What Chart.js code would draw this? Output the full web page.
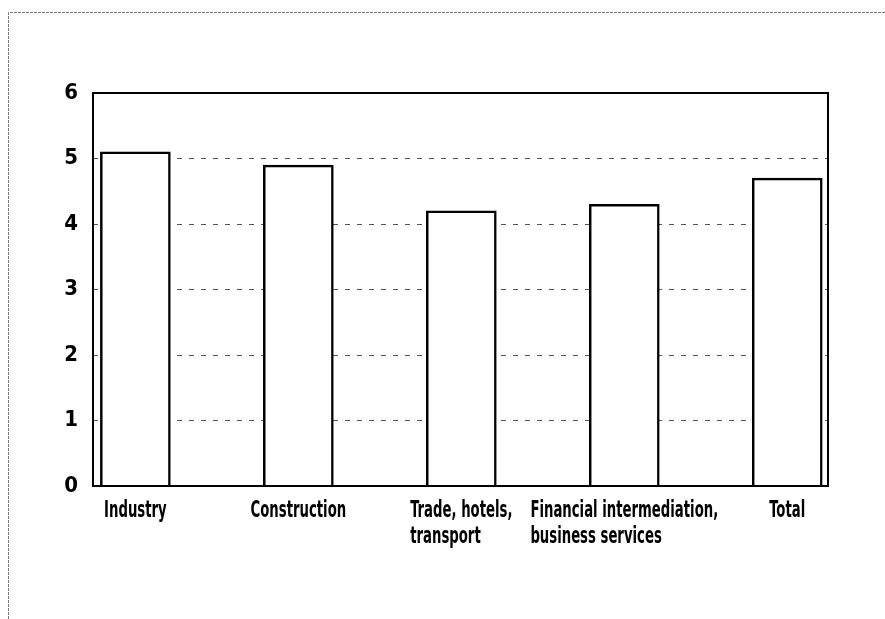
<!DOCTYPE html>
<html>
<head>
<meta charset="utf-8">
<script src="https://cdn.jsdelivr.net/npm/chart.js@4/dist/chart.umd.min.js"></script>
<style>
  html, body { margin: 0; padding: 0; background: #fff; }
  #wrap { width: 885px; height: 619px; }
</style>
</head>
<body>
<div id="wrap"><canvas id="chart" width="885" height="619"></canvas></div>
<script>
// ── Data ──────────────────────────────────────────────────────────────
const categories = [
    ['Industry'],
    ['Construction'],
    ['Trade, hotels,', 'transport'],
    ['Financial intermediation,', 'business services'],
    ['Total']
];
const values = [5.1, 4.9, 4.2, 4.3, 4.7];
const yTicks = [0, 1, 2, 3, 4, 5, 6];

const FONT = '"DejaVu Sans Condensed", "DejaVu Sans", sans-serif';
const SQUEEZE = 0.64; // the original face is a very narrow one

// Outer page frame (thin dotted grey, left + top only)
const pageFramePlugin = {
    id: 'pageFrame',
    beforeDraw(chart) {
        const { ctx, width, height } = chart;
        ctx.save();
        ctx.strokeStyle = '#777';
        ctx.lineWidth = 1;
        ctx.setLineDash([3, 1]);
        ctx.beginPath();
        ctx.moveTo(8.5, height);
        ctx.lineTo(8.5, 12.5);
        ctx.lineTo(width, 12.5);
        ctx.stroke();
        ctx.restore();
    }
};

// Solid box round the plot area
const plotFramePlugin = {
    id: 'plotFrame',
    afterDatasetsDraw(chart) {
        const { ctx, chartArea: a } = chart;
        ctx.save();
        ctx.strokeStyle = '#000';
        ctx.lineWidth = 2;
        ctx.strokeRect(a.left, a.top, a.right - a.left, a.bottom - a.top);
        ctx.restore();
    }
};

// Category labels: block centred under the bar, lines left-aligned, squeezed
const xLabelsPlugin = {
    id: 'xLabels',
    afterDraw(chart) {
        const { ctx, scales: { x, y } } = chart;
        ctx.save();
        ctx.font = 'bold 23px ' + FONT;
        ctx.fillStyle = '#000';
        ctx.textAlign = 'left';
        ctx.textBaseline = 'alphabetic';
        categories.forEach((lines, i) => {
            const cx = x.getPixelForValue(i);
            const w = Math.max(...lines.map(l => ctx.measureText(l).width)) * SQUEEZE;
            const left = cx - w / 2;
            lines.forEach((l, j) => {
                ctx.save();
                ctx.translate(left, y.bottom + 31 + j * 26);
                ctx.scale(SQUEEZE, 1);
                ctx.fillText(l, 0, 0);
                ctx.restore();
            });
        });
        ctx.restore();
    }
};

new Chart(document.getElementById('chart'), {
    type: 'bar',
    plugins: [pageFramePlugin, plotFramePlugin, xLabelsPlugin],
    data: {
        datasets: [{
            data: values.map((v, i) => ({ x: i, y: v })),
            backgroundColor: '#fff',
            borderColor: '#000',
            borderWidth: 2.5,
            barThickness: 70
        }]
    },
    options: {
        responsive: false,
        animation: false,
        layout: { padding: { left: 0, top: 93, right: 57, bottom: 0 } },
        plugins: { legend: { display: false }, tooltip: { enabled: false } },
        scales: {
            x: {
                type: 'linear',
                offset: false,
                min: -0.26,
                max: 4.25,
                ticks: { display: false },
                grid: { display: false, offset: false },
                border: { display: false },
                afterFit: (s) => { s.height = 133; }
            },
            y: {
                min: 0,
                max: 6,
                afterBuildTicks: (s) => { s.ticks = yTicks.map(v => ({ value: v })); },
                afterFit: (s) => { s.width = 93; },
                ticks: {
                    color: '#000',
                    padding: 15,
                    font: { family: FONT, size: 22, weight: 'bold' }
                },
                grid: {
                    drawTicks: false,
                    lineWidth: 1,
                    color: (c) => (c.tick && (c.tick.value === 0 || c.tick.value === 6)) ? 'rgba(0,0,0,0)' : '#555'
                },
                border: { display: false, dash: [5, 7] }
            }
        }
    }
});
</script>
</body>
</html>
